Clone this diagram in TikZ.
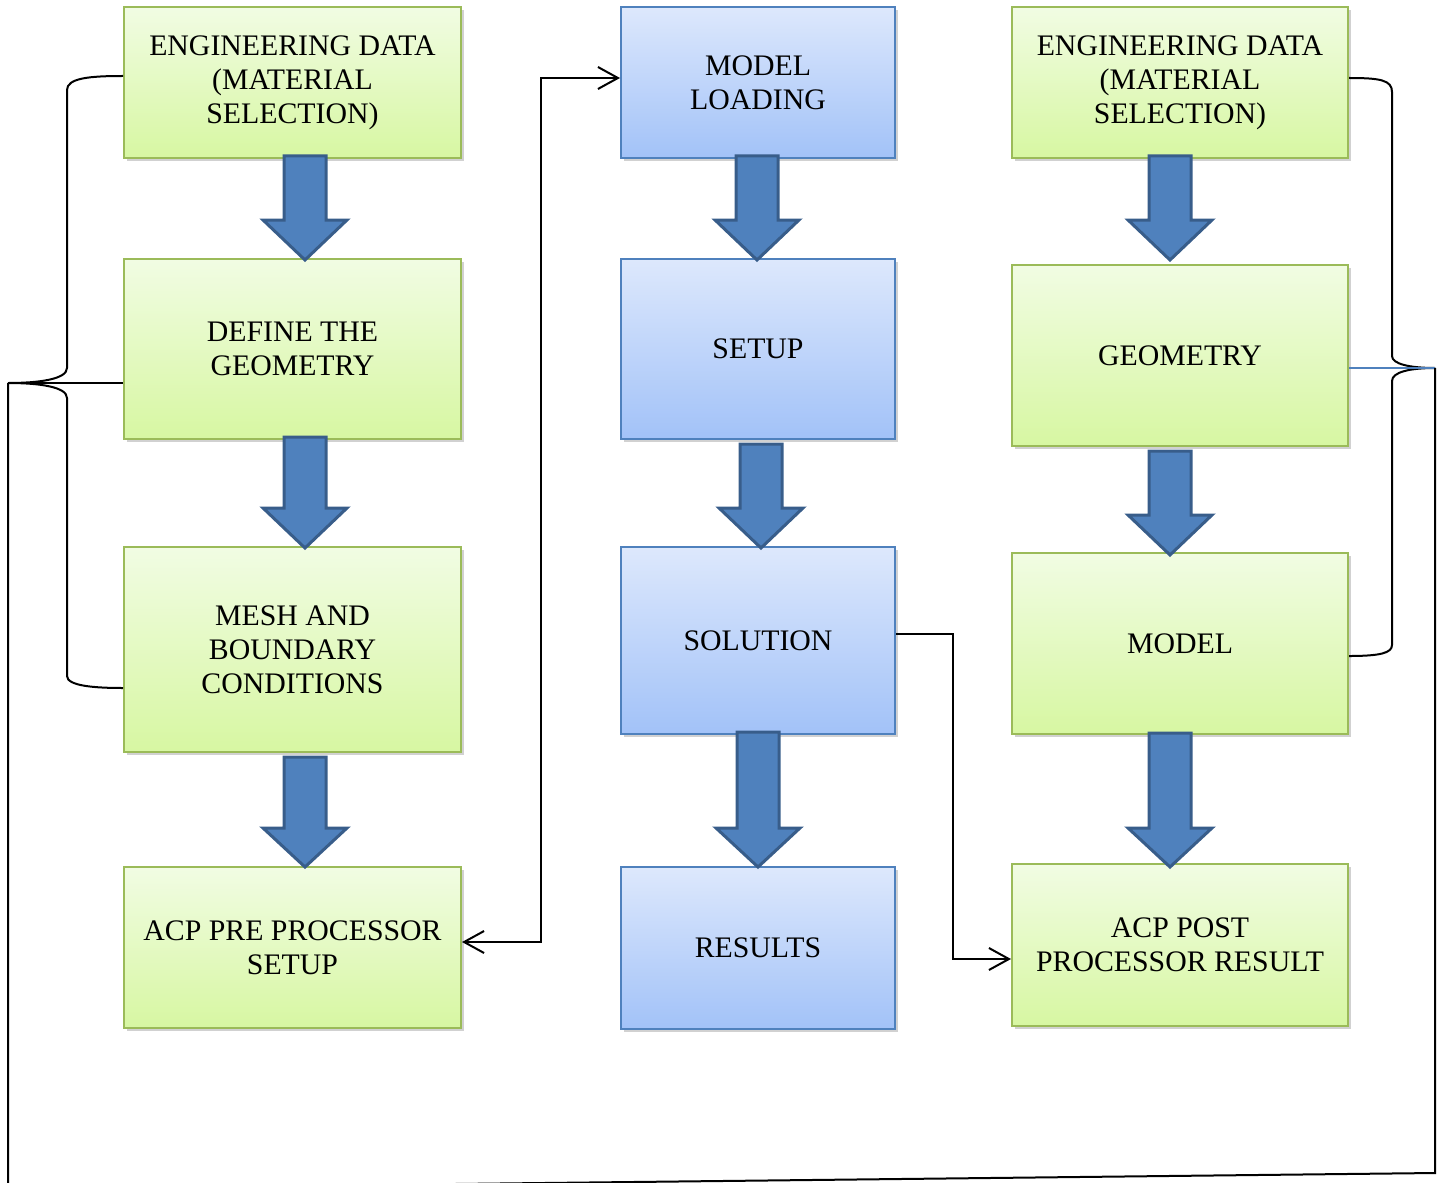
\documentclass[tikz,border=0pt]{standalone}
\usepackage{fontspec}
\setmainfont{Liberation Serif}
\usetikzlibrary{arrows.meta,shadows,calc}
\definecolor{gtop}{HTML}{F1FCE3}
\definecolor{gbot}{HTML}{D7F7A2}
\definecolor{gline}{HTML}{9BBB59}
\definecolor{btop}{HTML}{DDE8FC}
\definecolor{bbot}{HTML}{A2C2F8}
\definecolor{bline}{HTML}{4F81BD}
\definecolor{afill}{HTML}{4F81BD}
\definecolor{aline}{HTML}{385D8A}
\tikzset{
  boxbase/.style={rectangle, inner sep=0pt, line width=1pt, align=center,
    font=\fontsize{14.9}{17}\selectfont,
    drop shadow={shadow xshift=1.5pt, shadow yshift=-1.5pt, opacity=0.3, fill=black!60}},
  gbox/.style={boxbase, draw=gline, top color=gtop, bottom color=gbot},
  bbox/.style={boxbase, draw=bline, top color=btop, bottom color=bbot},
  conn/.style={line width=1pt, black},
  tipb/.style={-{Straight Barb[length=10pt,width=11pt,line width=1pt]}},
  barrowst/.style={fill=afill, draw=aline, line width=1.5pt, line join=miter}
}
\newcommand{\blkarrow}[4]{%
  \draw[barrowst] (#1-21,#2) -- (#1+21,#2) -- (#1+21,#3) -- (#1+42,#3) -- (#1,#4) -- (#1-42,#3) -- (#1-21,#3) -- cycle;}
\begin{document}
\begin{tikzpicture}[x=0.5pt,y=-0.5pt]
\clip (0,0) rectangle (1443,1182);
% left column
\node[gbox, minimum width=168.5pt, minimum height=75.5pt] (L1) at (292.5,82.5) {ENGINEERING DATA\\(MATERIAL\\SELECTION)};
\node[gbox, minimum width=168.5pt, minimum height=90pt] (L2) at (292.5,349) {DEFINE THE\\GEOMETRY};
\node[gbox, minimum width=168.5pt, minimum height=102.5pt] (L3) at (292.5,649.5) {MESH AND\\BOUNDARY\\CONDITIONS};
\node[gbox, minimum width=168.5pt, minimum height=80.5pt] (L4) at (292.5,947.5) {ACP PRE PROCESSOR\\SETUP};
% middle column
\node[bbox, minimum width=137pt, minimum height=75.5pt] (M1) at (758,82.5) {MODEL\\LOADING};
\node[bbox, minimum width=137pt, minimum height=90pt] (M2) at (758,349) {SETUP};
\node[bbox, minimum width=137pt, minimum height=93.5pt] (M3) at (758,640.5) {SOLUTION};
\node[bbox, minimum width=137pt, minimum height=81pt] (M4) at (758,948) {RESULTS};
% right column
\node[gbox, minimum width=168pt, minimum height=75.5pt] (R1) at (1180,82.5) {ENGINEERING DATA\\(MATERIAL\\SELECTION)};
\node[gbox, minimum width=168pt, minimum height=90.5pt] (R2) at (1180,355.5) {GEOMETRY};
\node[gbox, minimum width=168pt, minimum height=90.5pt] (R3) at (1180,643.5) {MODEL};
\node[gbox, minimum width=168pt, minimum height=81pt] (R4) at (1180,945) {ACP POST\\PROCESSOR RESULT};
% block arrows
\blkarrow{305}{156}{220}{260}
\blkarrow{305}{437}{508}{548}
\blkarrow{305}{757}{828}{867}
\blkarrow{757}{156}{220}{260}
\blkarrow{761}{444}{508}{548}
\blkarrow{758}{732}{828}{867}
\blkarrow{1170}{156}{220}{260}
\blkarrow{1170}{451}{515}{555}
\blkarrow{1170}{733}{828}{867}
% connectors
\coordinate (a1) at (541,942);
\coordinate (a2) at (541,78);
\draw[conn, {Straight Barb[length=10pt,width=11pt,line width=1pt]}-{Straight Barb[length=10pt,width=11pt,line width=1pt]}]
  (a1 -| L4.east) -- (a1) -- (a2) -- (a2 -| M1.west);
\coordinate (b1) at (953,634);
\coordinate (b2) at (953,959);
\draw[conn, tipb] (b1 -| M3.east) -- (b1) -- (b2) -- (b2 -| R4.west);
% left brace
\coordinate (lt) at (8,383);
\draw[conn] (L1.west |- 0,76) .. controls (90,76) and (67,78) .. (67,90) -- (67,368)
  .. controls (67,379) and (40,383) .. (lt);
\draw[conn] (lt) .. controls (40,383) and (67,387) .. (67,398) -- (67,676)
  .. controls (67,686) and (95,688) .. (L3.west |- 0,688);
\draw[conn] (lt) -- (L2.west |- lt);
% right brace
\coordinate (rt) at (1435,368);
\draw[conn] (R1.east |- 0,78) .. controls (1380,78) and (1392,80) .. (1392,92) -- (1392,356)
  .. controls (1392,364) and (1410,368) .. (rt);
\draw[conn] (rt) .. controls (1410,368) and (1392,372) .. (1392,381) -- (1392,645)
  .. controls (1392,653) and (1380,656) .. (R3.east |- 0,656);
\draw[line width=1pt, bline] (R2.east |- rt) -- (rt);
% outer loop
\draw[conn] (lt) -- (8,1189) -- (1435,1173) -- (rt);
\end{tikzpicture}
\end{document}
